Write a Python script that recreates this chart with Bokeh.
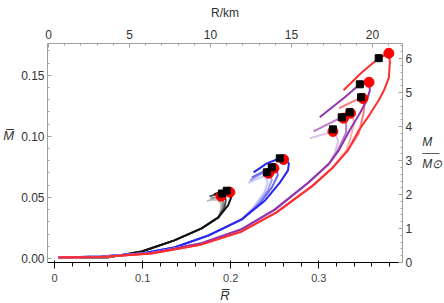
from bokeh.plotting import figure
from bokeh.models import Range1d, LinearAxis, FixedTicker, PrintfTickFormatter, Title
from bokeh.embed import file_html
from bokeh.resources import INLINE

# ---------------- data (R-bar, M-bar) ----------------
# black family
K_trunk_R = [0.0045, 0.061, 0.099, 0.136, 0.167, 0.186]
K_trunk_M = [0.0008, 0.0009, 0.0057, 0.0148, 0.0246, 0.0336]
K1_R = K_trunk_R + [0.197, 0.2005, 0.199, 0.1955, 0.188, 0.181]
K1_M = K_trunk_M + [0.0434, 0.050, 0.0545, 0.0557, 0.0545, 0.0525]
K2_R = K_trunk_R + [0.193, 0.1945, 0.192, 0.1885, 0.182, 0.176]
K2_M = K_trunk_M + [0.042, 0.048, 0.0515, 0.0525, 0.0522, 0.0508]
K3_R = K_trunk_R + [0.191, 0.1915, 0.188, 0.183, 0.177]
K3_M = K_trunk_M + [0.041, 0.0465, 0.0495, 0.050, 0.049]
K4_R = K_trunk_R + [0.189, 0.189, 0.185, 0.178, 0.173]
K4_M = K_trunk_M + [0.040, 0.045, 0.048, 0.048, 0.047]

# blue family
B_trunk_R = [0.0045, 0.053, 0.099, 0.136, 0.175, 0.2125]
B_trunk_M = [0.0008, 0.0016, 0.004, 0.009, 0.0189, 0.032]
B1_R = B_trunk_R + [0.239, 0.256, 0.265, 0.266, 0.2614, 0.2545, 0.241, 0.226]
B1_M = B_trunk_M + [0.0475, 0.0623, 0.0721, 0.0779, 0.0811, 0.0816, 0.0779, 0.0705]
B2_R = B_trunk_R + [0.233, 0.2466, 0.2534, 0.2523, 0.249, 0.242, 0.224]
B2_M = B_trunk_M + [0.045, 0.058, 0.068, 0.073, 0.0745, 0.073, 0.0664]
B3_R = B_trunk_R + [0.2295, 0.242, 0.2466, 0.2455, 0.243, 0.235, 0.2216]
B3_M = B_trunk_M + [0.0434, 0.0557, 0.064, 0.068, 0.0703, 0.0695, 0.064]
B4_R = B_trunk_R + [0.226, 0.238, 0.242, 0.240, 0.236, 0.220]
B4_M = B_trunk_M + [0.042, 0.054, 0.062, 0.066, 0.067, 0.062]

# red / purple family
R_trunk_R = [0.0045, 0.053, 0.110, 0.167, 0.2125, 0.252, 0.292, 0.315]
R_trunk_M = [0.0008, 0.0012, 0.0041, 0.0115, 0.0221, 0.0377, 0.059, 0.0738]
P_trunk_R = [0.0045, 0.053, 0.110, 0.167, 0.2125, 0.250, 0.288, 0.3115]
P_trunk_M = [0.0008, 0.0013, 0.0045, 0.0125, 0.024, 0.040, 0.062, 0.0775]
C1_R = R_trunk_R + [0.333, 0.3455, 0.357, 0.368, 0.374, 0.3795, 0.3807, 0.3795, 0.368, 0.349, 0.328]
C1_M = R_trunk_M + [0.0885, 0.105, 0.117, 0.1295, 0.1377, 0.148, 0.1607, 0.168, 0.164, 0.1525, 0.1377]
C2_R = P_trunk_R + [0.3227, 0.335, 0.3466, 0.3545, 0.358, 0.357, 0.3466, 0.3295, 0.301]
C2_M = P_trunk_M + [0.0885, 0.105, 0.1189, 0.1295, 0.1377, 0.1443, 0.1426, 0.132, 0.1156]
C3_R = R_trunk_R + [0.333, 0.3455, 0.351, 0.352, 0.350, 0.343, 0.323]
C3_M = R_trunk_M + [0.0885, 0.1025, 0.1197, 0.1279, 0.131, 0.130, 0.123]
C4_R = R_trunk_R + [0.331, 0.3352, 0.340, 0.338, 0.336, 0.330]
C4_M = R_trunk_M + [0.088, 0.0967, 0.1107, 0.118, 0.119, 0.1185]
C5_R = P_trunk_R + [0.3215, 0.331, 0.331, 0.328, 0.320, 0.294]
C5_M = P_trunk_M + [0.0885, 0.103, 0.112, 0.1148, 0.1135, 0.104]
C6_R = P_trunk_R + [0.318, 0.322, 0.319, 0.316, 0.307, 0.290]
C6_M = P_trunk_M + [0.086, 0.096, 0.102, 0.104, 0.102, 0.0984]

# markers
dot_R = [0.189, 0.199, 0.260, 0.249, 0.243, 0.3795, 0.357, 0.350, 0.336, 0.328, 0.316]
dot_M = [0.051, 0.0542, 0.081, 0.0738, 0.0697, 0.168, 0.1443, 0.131, 0.1189, 0.1148, 0.104]
sq_R = [0.190, 0.1955, 0.2557, 0.2466, 0.241, 0.368, 0.3466, 0.348, 0.335, 0.326, 0.316]
sq_M = [0.0532, 0.0555, 0.082, 0.0746, 0.0705, 0.164, 0.1426, 0.132, 0.1197, 0.1156, 0.1057]

# ticks
x_ticks = [0.0, 0.1, 0.2, 0.3]
y_ticks = [0.0, 0.05, 0.10, 0.15]
km_ticks = [0, 5, 10, 15, 20]
msun_ticks = [0, 1, 2, 3, 4, 5, 6]

FONT = "Liberation Sans"

p = figure(frame_width=355, frame_height=219, output_backend="svg", toolbar_location=None,
           x_range=Range1d(-0.008, 0.395), y_range=Range1d(-0.0033, 0.176),
           min_border_left=46, min_border_right=40, min_border_top=43, min_border_bottom=5)
p.xgrid.visible = False
p.ygrid.visible = False
p.outline_line_color = None
p.background_fill_color = "white"
p.extra_x_ranges = {"km": Range1d(-0.06, 21.85)}
p.extra_y_ranges = {"msun": Range1d(0, 6.45)}

top = LinearAxis(x_range_name="km")
right = LinearAxis(y_range_name="msun")
p.add_layout(top, "above")
p.add_layout(right, "right")

bottom = p.xaxis[0]
left = p.yaxis[0]
bottom.ticker = FixedTicker(ticks=x_ticks, minor_ticks=[i * 0.02 for i in range(0, 20)])
bottom.formatter = PrintfTickFormatter(format="%.1f")
left.ticker = FixedTicker(ticks=y_ticks, minor_ticks=[i * 0.01 for i in range(0, 18)])
left.formatter = PrintfTickFormatter(format="%.2f")
top.ticker = FixedTicker(ticks=km_ticks, minor_ticks=list(range(0, 22)))
top.formatter = PrintfTickFormatter(format="%d")
right.ticker = FixedTicker(ticks=msun_ticks, minor_ticks=[i * 0.2 for i in range(0, 33)])
right.formatter = PrintfTickFormatter(format="%d")

for ax in [bottom, left, top, right]:
    ax.axis_line_color = "#a0a0a0"
    ax.major_tick_line_color = "#a0a0a0"
    ax.minor_tick_line_color = "#a0a0a0"
    ax.major_tick_in = 4
    ax.major_tick_out = 0
    ax.minor_tick_in = 2
    ax.minor_tick_out = 0
    ax.major_label_text_font = FONT
    ax.major_label_text_font_size = "12px"
    ax.major_label_text_color = "#333333"
    ax.axis_label_text_font = FONT
    ax.axis_label_text_color = "#333333"
    ax.axis_label_text_font_size = "12px"

bottom.major_label_standoff = 5
top.major_label_standoff = 5
left.major_label_standoff = 3
right.major_label_standoff = 3

top.axis_label = "R/km"
top.axis_label_text_font_style = "normal"
top.axis_label_standoff = 7
left.axis_label = "M\u0305\n\n"
left.axis_label_orientation = "horizontal"
left.axis_label_text_font_style = "italic"
left.axis_label_text_font_size = "13px"
left.axis_label_text_line_height = 1.2
left.axis_label_standoff = 4
right.axis_label = "M\n\u2500\u2500\nM\u2299"
right.axis_label_orientation = "horizontal"
right.axis_label_text_font_style = "italic"
right.axis_label_text_line_height = 0.78
right.axis_label_standoff = 7

# bottom axis title as a Title placed below the axis
p.add_layout(Title(text="R\u0305", align="center", text_font=FONT, text_font_size="13px",
                   text_font_style="italic", text_color="#333333", standoff=2), "below")

curves = [
    (K4_R, K4_M, "#bdbdbd"), (K3_R, K3_M, "#8a8a8a"), (K2_R, K2_M, "#4a4a4a"), (K1_R, K1_M, "#111111"),
    (B4_R, B4_M, "#c9c9f7"), (B3_R, B3_M, "#9d9df2"), (B2_R, B2_M, "#6a6af0"), (B1_R, B1_M, "#2626f0"),
    (C6_R, C6_M, "#dcc2e8"), (C5_R, C5_M, "#b87bca"), (C4_R, C4_M, "#ffb0b0"), (C3_R, C3_M, "#ff7d7d"),
    (C2_R, C2_M, "#9035b0"), (C1_R, C1_M, "#ff2e2e"),
]
for xs, ys, col in curves:
    p.line(xs, ys, line_color=col, line_width=2)

p.scatter(dot_R, dot_M, size=10, marker="circle", fill_color="#ff0000", line_color="#ff0000")
p.scatter(sq_R, sq_M, size=7, marker="square", fill_color="black", line_color="black")

open("out.html", "w").write(file_html(p, INLINE))
